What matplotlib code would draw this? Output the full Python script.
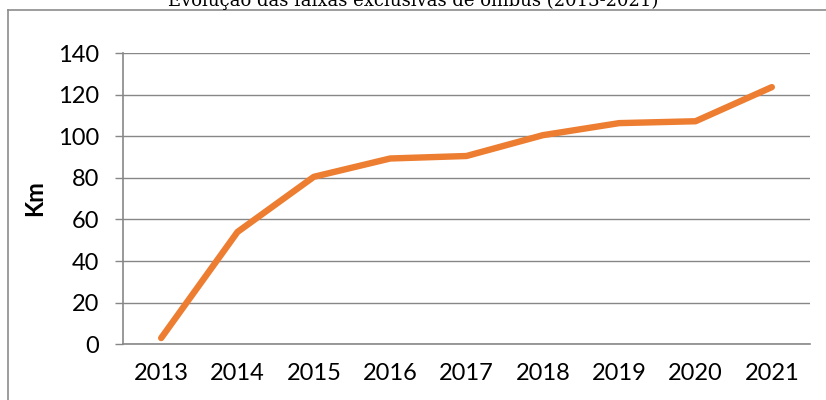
import matplotlib
matplotlib.use("Agg")
import matplotlib.pyplot as plt
from matplotlib.lines import Line2D

years = ["2013", "2014", "2015", "2016", "2017", "2018", "2019", "2020", "2021"]
km = [3, 54, 80.5, 89.3, 90.5, 100.5, 106.3, 107.2, 123.6]
y_ticks = [0, 20, 40, 60, 80, 100, 120, 140]
title = "Evolução das faixas exclusivas de ônibus (2013-2021)"
y_label = "Km"

W, H = 826, 400
fig = plt.figure(figsize=(W / 100, H / 100), dpi=100)
fig.patch.set_facecolor("white")

left, right, top, bottom = 123, 810, 53, 344.3
ax = fig.add_axes([left / W, 1 - bottom / H, (right - left) / W, (bottom - top) / H])

grid_c = "#878787"
x = list(range(len(years)))
ax.plot(x, km, color="#ED7D31", lw=4.6, solid_capstyle="round", solid_joinstyle="round", zorder=3)

ax.set_xlim(-0.5, len(years) - 0.5)
ax.set_ylim(0, 140)
ax.set_yticks(y_ticks)
ax.set_xticks(x)
ax.set_xticklabels(years)
ax.grid(axis="y", color=grid_c, lw=1.0)
ax.set_axisbelow(True)

for s in ["top", "right"]:
    ax.spines[s].set_visible(False)
ax.spines["left"].set_color(grid_c)
ax.spines["bottom"].set_color(grid_c)
ax.spines["left"].set_linewidth(1.2)
ax.spines["bottom"].set_linewidth(1.2)

font = "Lato"
fs = 17
ax.tick_params(axis="y", length=6, width=1, color=grid_c, pad=11, labelsize=fs, labelcolor="black")
ax.tick_params(axis="x", length=0, pad=13.5, labelsize=fs, labelcolor="black")
for lab in ax.get_xticklabels() + ax.get_yticklabels():
    lab.set_fontfamily(font)

fig.text(35 / W, 1 - 198 / H, y_label, rotation=90, ha="center", va="center",
         fontsize=fs, fontweight="bold", fontfamily=font)

fig.text(0.5, 1 - 6 / H, title, ha="center", va="baseline", fontsize=13,
         fontfamily="DejaVu Serif", color="black")

# chart border (partially cropped)
fig.add_artist(Line2D([8 / W, 1.0], [1 - 10 / H, 1 - 10 / H], transform=fig.transFigure, color="#8c8c8c", lw=1.2))
fig.add_artist(Line2D([8 / W, 8 / W], [1 - 10 / H, 0.0], transform=fig.transFigure, color="#8c8c8c", lw=1.2))

fig.savefig("out.png", dpi=100)
